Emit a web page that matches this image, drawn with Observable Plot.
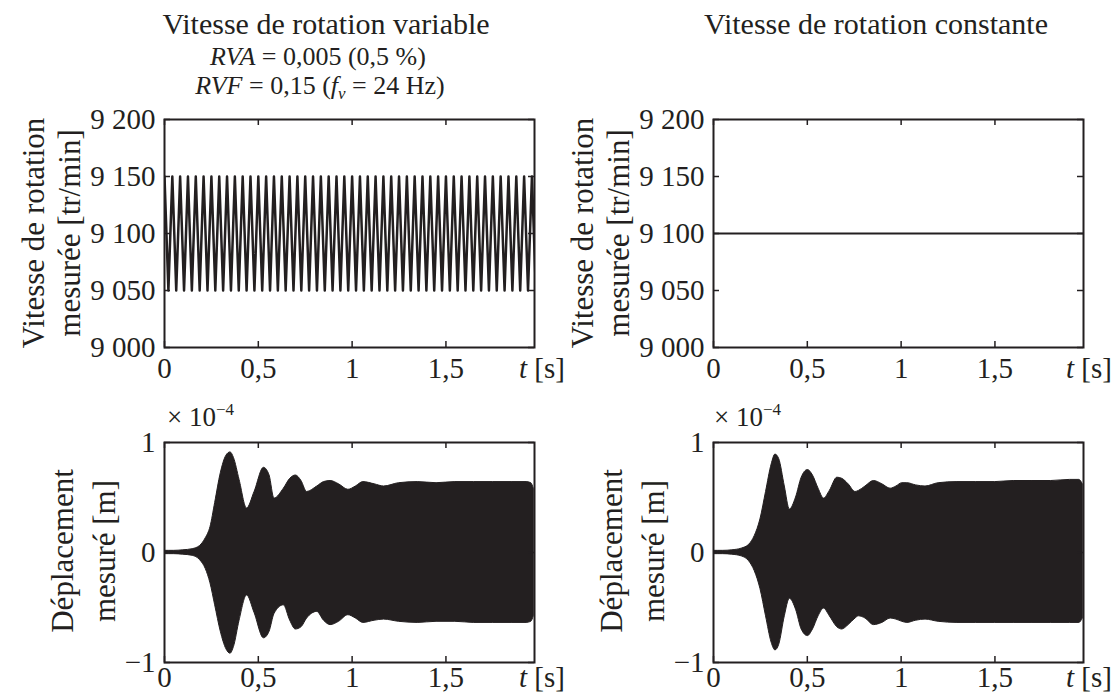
<!DOCTYPE html>
<html><head><meta charset="utf-8">
<script src="https://cdn.jsdelivr.net/npm/d3@7"></script>
<script src="https://cdn.jsdelivr.net/npm/@observablehq/plot@0.6"></script>
<style>
body{margin:0;background:#fff;}
#fig{position:relative;width:1120px;height:695px;overflow:hidden;font-family:"Liberation Serif","DejaVu Serif",serif;color:#231f20;background:#fff;}
#overlay{position:absolute;left:0;top:0;}
</style></head><body><div id="fig"></div>
<script>
// ---------- data ----------
const titleLeft = "Vitesse de rotation variable";
const titleRight = "Vitesse de rotation constante";
const speedLabel = ["Vitesse de rotation", "mesurée [tr/min]"];
const dispLabel = ["Déplacement", "mesuré [m]"];
const timeTicks = [0, 0.5, 1, 1.5];
const speedTicks = [9000, 9050, 9100, 9150, 9200];
const dispTicks = [-1, 0, 1];
const xMax = 1.972;

// variable speed signal (24 Hz oscillation, vertices)
const speedTime = [0,.0208,.0417,.0625,.0833,.1042,.125,.1458,.1667,.1875,.2083,.2292,.25,.2708,.2917,.3125,.3333,.3542,.375,.3958,.4167,.4375,.4583,.4792,
.5,.5208,.5417,.5625,.5833,.6042,.625,.6458,.6667,.6875,.7083,.7292,.75,.7708,.7917,.8125,.8333,.8542,.875,.8958,.9167,.9375,.9583,.9792,
1,1.0208,1.0417,1.0625,1.0833,1.1042,1.125,1.1458,1.1667,1.1875,1.2083,1.2292,1.25,1.2708,1.2917,1.3125,1.3333,1.3542,1.375,1.3958,1.4167,1.4375,1.4583,1.4792,
1.5,1.5208,1.5417,1.5625,1.5833,1.6042,1.625,1.6458,1.6667,1.6875,1.7083,1.7292,1.75,1.7708,1.7917,1.8125,1.8333,1.8542,1.875,1.8958,1.9167,1.9375,1.9583,1.9792];
const speedRpm = [9150,9050,9150,9050,9150,9050,9150,9050,9150,9050,9150,9050,9150,9050,9150,9050,9150,9050,9150,9050,9150,9050,9150,9050,
9150,9050,9150,9050,9150,9050,9150,9050,9150,9050,9150,9050,9150,9050,9150,9050,9150,9050,9150,9050,9150,9050,9150,9050,
9150,9050,9150,9050,9150,9050,9150,9050,9150,9050,9150,9050,9150,9050,9150,9050,9150,9050,9150,9050,9150,9050,9150,9050,
9150,9050,9150,9050,9150,9050,9150,9050,9150,9050,9150,9050,9150,9050,9150,9050,9150,9050,9150,9050,9150,9050,9150,9050];

// constant speed
const constTime = [0, 1.972];
const constRpm = [9100, 9100];

// displacement envelope (×1e-4 m), variable speed
const varT  = [0,0.05,0.10,0.15,0.19,0.22,0.245,0.27,0.30,0.33,0.352,0.37,0.40,0.44,0.48,0.53,0.56,0.586,0.636,0.67,0.70,0.73,0.76,0.814,0.85,0.885,0.93,0.98,1.02,1.06,1.12,1.17,1.25,1.35,1.45,1.55,1.65,1.75,1.85,1.93,1.955,1.968];
const varHi = [0.015,0.015,0.02,0.03,0.06,0.13,0.23,0.45,0.72,0.88,0.91,0.86,0.66,0.40,0.55,0.77,0.70,0.49,0.58,0.67,0.70,0.65,0.55,0.60,0.64,0.65,0.62,0.57,0.60,0.64,0.62,0.60,0.63,0.64,0.63,0.64,0.64,0.64,0.64,0.64,0.63,0.58];
const varLo = [-0.015,-0.015,-0.02,-0.03,-0.07,-0.15,-0.28,-0.48,-0.72,-0.88,-0.92,-0.86,-0.62,-0.39,-0.55,-0.78,-0.72,-0.56,-0.48,-0.62,-0.70,-0.68,-0.60,-0.54,-0.62,-0.66,-0.63,-0.57,-0.60,-0.64,-0.62,-0.61,-0.63,-0.64,-0.63,-0.63,-0.64,-0.64,-0.64,-0.64,-0.63,-0.58];

// displacement envelope (×1e-4 m), constant speed
const conT  = [0,0.05,0.10,0.15,0.19,0.22,0.25,0.28,0.31,0.33,0.35,0.38,0.407,0.44,0.47,0.503,0.53,0.56,0.589,0.62,0.66,0.686,0.72,0.757,0.775,0.81,0.855,0.90,0.944,0.975,1.006,1.033,1.08,1.13,1.2,1.3,1.4,1.5,1.6,1.7,1.8,1.9,1.95,1.968];
const conHi = [0.015,0.015,0.02,0.035,0.07,0.15,0.30,0.55,0.80,0.89,0.85,0.60,0.39,0.50,0.68,0.75,0.70,0.58,0.49,0.56,0.68,0.67,0.62,0.55,0.56,0.60,0.65,0.62,0.58,0.60,0.63,0.63,0.61,0.60,0.63,0.64,0.64,0.64,0.65,0.65,0.65,0.66,0.66,0.62];
const conLo = [-0.015,-0.015,-0.02,-0.035,-0.08,-0.17,-0.33,-0.58,-0.82,-0.89,-0.84,-0.58,-0.42,-0.52,-0.70,-0.76,-0.70,-0.58,-0.51,-0.58,-0.68,-0.70,-0.66,-0.60,-0.58,-0.60,-0.66,-0.64,-0.60,-0.61,-0.63,-0.64,-0.62,-0.61,-0.63,-0.64,-0.64,-0.64,-0.64,-0.64,-0.64,-0.64,-0.64,-0.60];

// ---------- drawing ----------
const ink = "#231f20";
const FONT = '"Liberation Serif","DejaVu Serif",serif';
const fig = document.getElementById("fig");
const fmtX = d => String(d).replace(".", ",");
const fmtSpeed = d => Math.floor(d / 1000) + "\u00a0" + String(d % 1000).padStart(3, "0");
const fmtDisp = d => d < 0 ? "\u2212" + Math.abs(d) : String(d);

function panel({left, top, w, h, yDomain, yTicks, yFormat, xPad, marks}) {
  const mL = 110, mR = 40, mT = 16, mB = 33;
  const chart = Plot.plot({
    width: w + mL + mR, height: h + mT + mB,
    marginLeft: mL, marginRight: mR, marginTop: mT, marginBottom: mB,
    style: {fontFamily: FONT, fontSize: "29px", color: ink, background: "transparent", overflow: "visible"},
    x: {domain: [0, xMax], label: null},
    y: {domain: yDomain, label: null},
    marks: [
      ...marks,
      Plot.ruleX(timeTicks, {x: d => d, insetTop: h - 6, stroke: ink, strokeWidth: 1.5}),
      Plot.ruleX(timeTicks, {x: d => d, insetBottom: h - 6, stroke: ink, strokeWidth: 1.5}),
      Plot.ruleY(yTicks, {y: d => d, insetRight: w - 6, stroke: ink, strokeWidth: 1.5}),
      Plot.ruleY(yTicks, {y: d => d, insetLeft: w - 6, stroke: ink, strokeWidth: 1.5}),
      Plot.frame({stroke: ink, strokeWidth: 2}),
      Plot.axisX({ticks: timeTicks, tickSize: 0, tickPadding: xPad, tickFormat: fmtX, label: null}),
      Plot.axisY({ticks: yTicks, tickSize: 0, tickPadding: 9, tickFormat: yFormat, label: null})
    ]
  });
  chart.style.position = "absolute";
  chart.style.left = (left - mL) + "px";
  chart.style.top = (top - mT) + "px";
  fig.appendChild(chart);
}

const speedData = speedTime.map((t, i) => ({t, v: speedRpm[i]}));
const constData = constTime.map((t, i) => ({t, v: constRpm[i]}));
const varData = varT.map((t, i) => ({t, hi: varHi[i], lo: varLo[i]}));
const conData = conT.map((t, i) => ({t, hi: conHi[i], lo: conLo[i]}));

panel({left: 164, top: 119, w: 370, h: 228, yDomain: [9000, 9200], yTicks: speedTicks, yFormat: fmtSpeed, xPad: 10,
  marks: [Plot.line(speedData, {x: "t", y: "v", stroke: ink, strokeWidth: 2.5, clip: true})]});
panel({left: 713, top: 119, w: 370, h: 228, yDomain: [9000, 9200], yTicks: speedTicks, yFormat: fmtSpeed, xPad: 10,
  marks: [Plot.line(constData, {x: "t", y: "v", stroke: ink, strokeWidth: 2, clip: true})]});
panel({left: 164, top: 442, w: 370, h: 220, yDomain: [-1, 1], yTicks: dispTicks, yFormat: fmtDisp, xPad: 4,
  marks: [Plot.areaY(varData, {x: "t", y1: "lo", y2: "hi", fill: ink, stroke: ink, strokeWidth: 1, curve: "monotone-x", clip: true})]});
panel({left: 713, top: 442, w: 370, h: 220, yDomain: [-1, 1], yTicks: dispTicks, yFormat: fmtDisp, xPad: 4,
  marks: [Plot.areaY(conData, {x: "t", y1: "lo", y2: "hi", fill: ink, stroke: ink, strokeWidth: 1, curve: "monotone-x", clip: true})]});

// ---------- text overlay ----------
function rot(x, y, txt, size) {
  return `<text transform="translate(${x},${y}) rotate(-90)" text-anchor="middle" font-size="${size}">${txt}</text>`;
}
function tLabel(x, y) {
  return `<text x="${x}" y="${y}" font-size="29"><tspan font-style="italic">t</tspan> [s]</text>`;
}
function scaleLabel(x, y) {
  return `<text x="${x}" y="${y}" font-size="27">× 10<tspan font-size="17" dy="-11">−4</tspan></text>`;
}
const ov = `<svg id="overlay" width="1120" height="695" style="font-family:${FONT.replace(/"/g, "'")};fill:${ink}">
<text x="326" y="34" font-size="30" text-anchor="middle">${titleLeft}</text>
<text x="876" y="34" font-size="30" text-anchor="middle">${titleRight}</text>
<text x="318" y="65" font-size="26" text-anchor="middle"><tspan font-style="italic">RVA</tspan> = 0,005 (0,5 %)</text>
<text x="320" y="94" font-size="26" text-anchor="middle"><tspan font-style="italic">RVF</tspan> = 0,15 (<tspan font-style="italic">f</tspan><tspan font-style="italic" font-size="17" dy="5">v</tspan><tspan dy="-5"> = 24 Hz)</tspan></text>
${rot(44, 233, speedLabel[0], 31)}
${rot(80, 233, speedLabel[1], 31)}
${rot(593, 233, speedLabel[0], 31)}
${rot(629, 233, speedLabel[1], 31)}
${rot(73, 551, dispLabel[0], 31)}
${rot(115, 551, dispLabel[1], 31)}
${rot(622, 551, dispLabel[0], 31)}
${rot(664, 551, dispLabel[1], 31)}
${tLabel(519, 378)}
${tLabel(1066, 378)}
${tLabel(519, 687)}
${tLabel(1066, 687)}
${scaleLabel(167, 426)}
${scaleLabel(714, 426)}
</svg>`;
fig.insertAdjacentHTML("beforeend", ov);
</script>
</body></html>
